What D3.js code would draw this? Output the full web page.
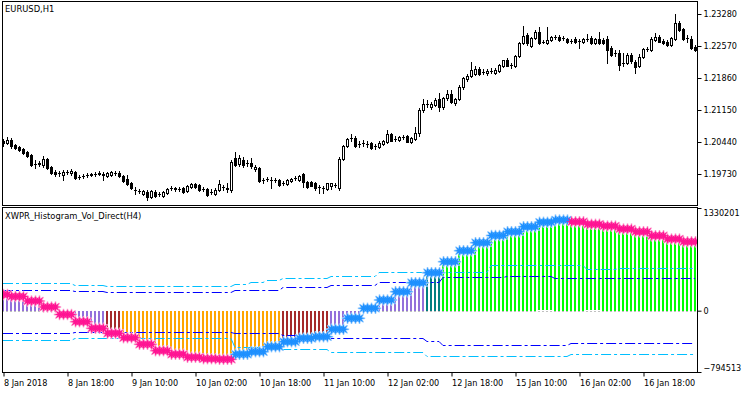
<!DOCTYPE html>
<html><head><meta charset="utf-8">
<script src="https://cdn.jsdelivr.net/npm/d3@7"></script>
<style>
html,body{margin:0;padding:0;background:#fff;}
svg{display:block;}
text{font-family:"DejaVu Sans Condensed","DejaVu Sans",sans-serif;font-stretch:condensed;font-size:9px;fill:#000;}
</style></head><body>
<svg id="c" width="750" height="394"></svg>
<script>
// ---------- DATA ----------
const symbolTitle = "EURUSD,H1";
const indicatorTitle = "XWPR_Histogram_Vol_Direct(H4)";
// H1 candles, first visible bar = 8 Jan 2018 02:00
const open = [1.2045,1.2040,1.2047,1.2036,1.2031,1.2027,1.2020,1.2014,1.1994,1.1994,1.1991,1.2005,1.1987,1.1976,1.1974,1.1969,1.1976,1.1974,1.1976,1.1965,
1.1967,1.1969,1.1969,1.1971,1.1971,1.1969,1.1967,1.1969,1.1974,1.1974,1.1967,1.1960,1.1951,1.1936,1.1934,1.1927,1.1931,1.1920,1.1931,1.1927,
1.1923,1.1929,1.1940,1.1940,1.1938,1.1940,1.1934,1.1942,1.1949,1.1947,1.1938,1.1938,1.1931,1.1927,1.1936,1.1942,1.1940,1.1936,1.2007,1.1994,
1.2002,1.1996,1.1996,1.1982,1.1985,1.1958,1.1960,1.1958,1.1958,1.1958,1.1951,1.1949,1.1956,1.1962,1.1958,1.1971,1.1954,1.1954,1.1951,1.1942,
1.1940,1.1938,1.1945,1.1947,1.1940,1.2005,1.2034,1.2051,1.2051,1.2038,1.2040,1.2038,1.2040,1.2034,1.2031,1.2038,1.2042,1.2060,1.2049,1.2047,
1.2054,1.2056,1.2042,1.2049,1.2062,1.2113,1.2127,1.2120,1.2125,1.2138,1.2120,1.2140,1.2149,1.2129,1.2138,1.2164,1.2182,1.2189,1.2193,1.2204,
1.2198,1.2196,1.2200,1.2196,1.2200,1.2211,1.2224,1.2213,1.2211,1.2233,1.2262,1.2280,1.2255,1.2273,1.2287,1.2264,1.2262,1.2269,1.2275,1.2275,
1.2273,1.2271,1.2267,1.2271,1.2267,1.2264,1.2271,1.2273,1.2262,1.2271,1.2269,1.2271,1.2251,1.2240,1.2240,1.2218,1.2218,1.2236,1.2220,1.2211,
1.2231,1.2249,1.2247,1.2269,1.2275,1.2267,1.2264,1.2258,1.2271,1.2306,1.2293,1.2273,1.2271,1.2253];
const high = [1.2049,1.2054,1.2051,1.2038,1.2034,1.2029,1.2022,1.2016,1.2002,1.2000,1.2011,1.2007,1.1989,1.1980,1.1978,1.1980,1.1980,1.1982,1.1978,1.1969,
1.1971,1.1974,1.1974,1.1976,1.1978,1.1976,1.1976,1.1978,1.1978,1.1978,1.1969,1.1969,1.1954,1.1942,1.1938,1.1936,1.1936,1.1936,1.1936,1.1931,
1.1934,1.1940,1.1945,1.1942,1.1942,1.1942,1.1947,1.1951,1.1951,1.1949,1.1942,1.1940,1.1938,1.1940,1.1958,1.1947,1.1951,1.2002,1.2020,1.2014,
1.2009,1.2002,1.2007,1.1991,1.1987,1.1962,1.1965,1.1965,1.1962,1.1960,1.1956,1.1960,1.1962,1.1967,1.1969,1.1974,1.1956,1.1956,1.1954,1.1947,
1.1945,1.1951,1.1951,1.1951,1.2009,1.2036,1.2051,1.2060,1.2056,1.2045,1.2047,1.2045,1.2042,1.2038,1.2045,1.2047,1.2069,1.2062,1.2056,1.2056,
1.2058,1.2058,1.2054,1.2076,1.2118,1.2138,1.2136,1.2131,1.2140,1.2151,1.2142,1.2158,1.2158,1.2140,1.2169,1.2187,1.2193,1.2220,1.2211,1.2209,
1.2204,1.2204,1.2207,1.2207,1.2216,1.2224,1.2229,1.2218,1.2236,1.2264,1.2300,1.2284,1.2275,1.2291,1.2298,1.2269,1.2298,1.2278,1.2280,1.2280,
1.2278,1.2273,1.2271,1.2275,1.2271,1.2273,1.2282,1.2278,1.2273,1.2287,1.2273,1.2278,1.2255,1.2247,1.2247,1.2240,1.2240,1.2240,1.2224,1.2238,
1.2251,1.2253,1.2275,1.2284,1.2280,1.2271,1.2269,1.2275,1.2326,1.2311,1.2295,1.2280,1.2278,1.2258];
const low = [1.2034,1.2038,1.2029,1.2027,1.2022,1.2016,1.2009,1.1989,1.1985,1.1989,1.1987,1.1982,1.1971,1.1967,1.1967,1.1958,1.1971,1.1969,1.1960,1.1960,
1.1962,1.1965,1.1967,1.1967,1.1969,1.1958,1.1965,1.1967,1.1969,1.1965,1.1954,1.1947,1.1938,1.1927,1.1929,1.1925,1.1914,1.1918,1.1920,1.1923,
1.1920,1.1927,1.1936,1.1934,1.1934,1.1929,1.1931,1.1940,1.1940,1.1934,1.1934,1.1923,1.1927,1.1925,1.1934,1.1936,1.1931,1.1931,1.1989,1.1989,
1.1987,1.1989,1.1985,1.1978,1.1954,1.1951,1.1956,1.1940,1.1954,1.1945,1.1947,1.1947,1.1954,1.1958,1.1956,1.1942,1.1940,1.1945,1.1936,1.1929,
1.1929,1.1936,1.1938,1.1942,1.1936,1.2002,1.2031,1.2045,1.2031,1.2031,1.2034,1.2031,1.2027,1.2027,1.2029,1.2036,1.2040,1.2045,1.2045,1.2045,
1.2049,1.2042,1.2040,1.2047,1.2056,1.2109,1.2120,1.2116,1.2122,1.2111,1.2116,1.2136,1.2129,1.2125,1.2136,1.2160,1.2178,1.2187,1.2191,1.2191,
1.2193,1.2191,1.2196,1.2193,1.2198,1.2209,1.2211,1.2207,1.2209,1.2231,1.2260,1.2258,1.2253,1.2271,1.2260,1.2262,1.2260,1.2267,1.2271,1.2267,
1.2269,1.2262,1.2262,1.2262,1.2251,1.2262,1.2267,1.2260,1.2260,1.2260,1.2260,1.2218,1.2233,1.2233,1.2202,1.2211,1.2216,1.2218,1.2196,1.2209,
1.2229,1.2244,1.2244,1.2267,1.2264,1.2260,1.2255,1.2255,1.2269,1.2289,1.2269,1.2264,1.2249,1.2244];
const close = [1.2040,1.2047,1.2034,1.2029,1.2025,1.2018,1.2011,1.1991,1.1994,1.1996,1.2005,1.1985,1.1974,1.1971,1.1974,1.1976,1.1976,1.1978,1.1962,1.1965,
1.1967,1.1969,1.1971,1.1971,1.1974,1.1971,1.1974,1.1976,1.1974,1.1967,1.1956,1.1949,1.1940,1.1936,1.1934,1.1934,1.1920,1.1934,1.1923,1.1927,
1.1931,1.1938,1.1940,1.1938,1.1938,1.1931,1.1945,1.1949,1.1942,1.1936,1.1938,1.1925,1.1931,1.1936,1.1949,1.1942,1.1938,1.1998,1.1991,1.2007,
1.1991,1.1996,1.1989,1.1987,1.1956,1.1958,1.1960,1.1958,1.1958,1.1947,1.1951,1.1958,1.1960,1.1962,1.1967,1.1954,1.1942,1.1945,1.1940,1.1942,
1.1940,1.1951,1.1951,1.1947,1.2005,1.2034,1.2049,1.2051,1.2034,1.2038,1.2040,1.2038,1.2029,1.2034,1.2040,1.2045,1.2060,1.2045,1.2049,1.2054,
1.2054,1.2042,1.2051,1.2062,1.2113,1.2127,1.2127,1.2127,1.2136,1.2120,1.2140,1.2149,1.2131,1.2138,1.2164,1.2184,1.2189,1.2202,1.2204,1.2193,
1.2198,1.2200,1.2200,1.2202,1.2213,1.2224,1.2211,1.2213,1.2233,1.2262,1.2278,1.2262,1.2273,1.2287,1.2262,1.2264,1.2269,1.2275,1.2275,1.2269,
1.2273,1.2264,1.2267,1.2264,1.2267,1.2271,1.2271,1.2262,1.2271,1.2262,1.2262,1.2247,1.2236,1.2240,1.2213,1.2218,1.2236,1.2222,1.2209,1.2231,
1.2249,1.2249,1.2271,1.2275,1.2264,1.2262,1.2258,1.2273,1.2306,1.2291,1.2271,1.2273,1.2251,1.2247];

const timeLabels = ["8 Jan 2018","8 Jan 18:00","9 Jan 10:00","10 Jan 02:00","10 Jan 18:00","11 Jan 10:00","12 Jan 02:00","12 Jan 18:00","15 Jan 10:00","16 Jan 02:00","16 Jan 18:00"];
const timeLabelBars = [0,16,32,48,64,80,96,112,128,144,160];
const priceTicks = [1.19730,1.20440,1.21150,1.21860,1.22570,1.23280];
const histTicks = [-794513,0,1330201];

// H4 indicator values (one per H4 bar, first H4 bar = 8 Jan 00:00)
const h4Value = [209500,183600,125300,47500,-49600,-142900,-228400,-293200,-350200,-435700,
-518600,-565300,-604100,-622300,-630000,-565300,-531600,-466800,-402000,-358000,
-337200,-241400,-98900,30700,138200,245800,362400,491900,634400,777000,
880600,973900,1023100,1087900,1144900,1174700,1152700,1119000,1097000,1058100,
1023100,971300,928500,893500];
// histogram colour state per H4 bar
const h4State = ["mid","mid","mid","mid","mid","mid","mid","dn1","dn2","dn2",
"dn2","dn2","dn2","dn2","dn2","dn2","dn2","dn2","dn1","dn1",
"dn1","mid","mid","mid","mid","mid","mid","up1","up2","up2",
"up2","up2","up2","up2","up2","up2","up2","up2","up2","up2",
"up2","up2","up2","up2"];
// direction of the signal (star colour)
const h4Dir = ["fall","fall","fall","fall","fall","fall","fall","fall","fall","fall",
"fall","fall","fall","fall","fall","rise","rise","rise","rise","rise",
"rise","rise","rise","rise","rise","rise","rise","rise","rise","rise",
"rise","rise","rise","rise","rise","rise","fall","fall","fall","fall",
"fall","fall","fall","fall"];
// volume-based levels
const levelUp2 = [358500,358500,358500,358500,358500,336500,336500,319600,319600,319600,
319600,319600,319600,319600,319600,345500,367600,397400,419400,419400,
419400,449200,449200,449200,504900,504900,504900,497100,497100,497100,
497100,591700,591700,591700,591700,591700,591700,536000,536000,556700,
556700,556700,556700,556700];
const levelUp1 = [267800,267800,267800,267800,267800,254800,254800,238000,238000,238000,
238000,238000,238000,238000,238000,274300,274300,274300,302800,302800,
302800,332600,332600,332600,375300,375300,375300,375300,432300,432300,
432300,432300,449200,449200,449200,427200,427200,427200,427200,427200,
427200,427200,427200,427200];
const levelDn1 = [-293200,-293200,-293200,-293200,-293200,-269900,-269900,-269900,-269900,-269900,
-269900,-269900,-269900,-269900,-269900,-293200,-293200,-293200,-315200,-315200,
-315200,-358000,-358000,-358000,-358000,-358000,-358000,-389100,-447400,-447400,
-447400,-447400,-447400,-447400,-447400,-447400,-422800,-422800,-422800,-422800,
-422800,-422800,-422800,-422800];
const levelDn2 = [-383900,-383900,-383900,-383900,-383900,-351500,-351500,-351500,-351500,-351500,
-351500,-351500,-351500,-351500,-351500,-466800,-466800,-466800,-500500,-500500,
-500500,-531600,-531600,-531600,-531600,-531600,-531600,-587300,-587300,-587300,
-587300,-587300,-587300,-587300,-587300,-587300,-561400,-561400,-561400,-561400,
-561400,-561400,-561400,-561400];

// ---------- STYLE ----------
const stateColor = {mid:"#9370DB", dn1:"#A52A2A", dn2:"#FFA500", up1:"#008080", up2:"#00FF00"};
const dirColor = {fall:"#FF1493", rise:"#1E90FF"};
const dirHalo = {fall:"#FFB0D8", rise:"#A8D4FF"};

// ---------- LAYOUT ----------
const L = 2, R = 697, T1 = 1, B1 = 205, T2 = 207, B2 = 372;
const nBars = close.length;
const h4Of = i => Math.floor((i + 2) / 4); // H1 bar -> H4 bar (first H1 bar is 02:00)

const svg = d3.select("#c");
const x = d3.scaleLinear().domain([0, nBars - 1]).range([3, 695]);
const yTop = d3.scaleLinear().domain([1.19730, 1.23280]).range([173.5, 13.5]);
const yH = d3.scaleLinear().domain([-794513, 1330201]).range([B2, T2 + 1]);

const defs = svg.append("defs");
defs.append("clipPath").attr("id","clip1").append("rect").attr("x",L+1).attr("y",T1+1).attr("width",R-L-1).attr("height",B1-T1-1);
defs.append("clipPath").attr("id","clip2").append("rect").attr("x",L+1).attr("y",T2+1).attr("width",R-L-1).attr("height",B2-T2-1);

// ---------- TOP PANEL: candles ----------
const gC = svg.append("g").attr("clip-path","url(#clip1)");
const idx = d3.range(nBars);
idx.forEach(i => {
  const cx = Math.round(x(i));
  const yo = Math.round(yTop(open[i])), yc = Math.round(yTop(close[i]));
  const yh = Math.round(yTop(high[i])), yl = Math.round(yTop(low[i]));
  gC.append("line").attr("x1",cx+0.5).attr("x2",cx+0.5).attr("y1",yh).attr("y2",yl+1)
    .attr("stroke","#000").attr("stroke-width",1);
  if (yo === yc) {
    gC.append("rect").attr("x",cx-1).attr("y",yo).attr("width",3).attr("height",1).attr("fill","#000");
  } else if (close[i] > open[i]) {
    gC.append("rect").attr("x",cx-0.5).attr("y",yc+0.5).attr("width",2).attr("height",yo-yc)
      .attr("fill","#fff").attr("stroke","#000").attr("stroke-width",1);
  } else {
    gC.append("rect").attr("x",cx-1).attr("y",yo).attr("width",3).attr("height",yc-yo+1).attr("fill","#000");
  }
});

// ---------- BOTTOM PANEL ----------
const g2 = svg.append("g").attr("clip-path","url(#clip2)");
// zero level
g2.append("line").attr("x1",L).attr("x2",R).attr("y1",Math.round(yH(0))+0.5).attr("y2",Math.round(yH(0))+0.5)
  .attr("stroke","#C0C0C0").attr("stroke-dasharray","2,2");
// histogram
g2.selectAll("rect.hist").data(idx).join("rect").attr("class","hist")
  .attr("x", i => Math.round(x(i)) - 1).attr("width", 2)
  .attr("y", i => Math.round(Math.min(yH(h4Value[h4Of(i)]), yH(0))))
  .attr("height", i => Math.max(1, Math.round(Math.abs(yH(h4Value[h4Of(i)]) - yH(0)))))
  .attr("fill", i => stateColor[h4State[h4Of(i)]]);
// levels
const levels = [[levelUp2,"#00BFFF"],[levelUp1,"#0000FF"],[levelDn1,"#0000FF"],[levelDn2,"#00BFFF"]];
levels.forEach(([arr,col]) => {
  const line = d3.line().x(i => x(i)).y(i => Math.round(yH(arr[h4Of(i)])) + 0.5);
  g2.append("path").attr("d", line(idx)).attr("fill","none").attr("stroke",col)
    .attr("stroke-width",1).attr("stroke-dasharray","10,3,3,3");
});
// stars
function starPath(Ro, Ri, n) {
  const pts = [];
  for (let k = 0; k < 2*n; k++) {
    const a = -Math.PI/2 + k*Math.PI/n;
    const r = k % 2 ? Ri : Ro;
    pts.push([r*Math.cos(a), r*Math.sin(a)]);
  }
  return "M" + pts.map(p => p[0].toFixed(2)+","+p[1].toFixed(2)).join("L") + "Z";
}
const sp = starPath(5.6, 2.1, 8);
const gs = g2.append("g");
idx.forEach(i => {
  const g = h4Of(i);
  gs.append("path").attr("d", sp)
    .attr("transform", `translate(${x(i)+0.5},${yH(h4Value[g])})`)
    .attr("fill", dirHalo[h4Dir[g]]).attr("stroke", dirHalo[h4Dir[g]]).attr("stroke-width",1.4);
});
idx.forEach(i => {
  const g = h4Of(i);
  gs.append("path").attr("d", sp)
    .attr("transform", `translate(${x(i)+0.5},${yH(h4Value[g])})`)
    .attr("fill", dirColor[h4Dir[g]]);
});

// ---------- FRAMES ----------
svg.append("rect").attr("x",L+0.5).attr("y",T1+0.5).attr("width",R-L).attr("height",B1-T1)
  .attr("fill","none").attr("stroke","#000");
svg.append("rect").attr("x",L+0.5).attr("y",T2+0.5).attr("width",R-L).attr("height",B2-T2)
  .attr("fill","none").attr("stroke","#000");

// ---------- AXES ----------
const axP = svg.append("g").attr("transform",`translate(${R+0.5},0)`)
  .call(d3.axisRight(yTop).tickValues(priceTicks).tickFormat(d3.format(".5f")).tickSize(4).tickPadding(2));
axP.select(".domain").remove();
axP.selectAll(".tick line").attr("transform","translate(0,0.5)");

const axH = svg.append("g").attr("transform",`translate(${R+0.5},0)`)
  .call(d3.axisRight(yH).tickValues(histTicks).tickFormat(d3.format("d")).tickSize(4).tickPadding(2));
axH.select(".domain").remove();
axH.selectAll(".tick text").attr("dy", d => d === histTicks[2] ? "0.85em" : (d === histTicks[0] ? "-0.15em" : "0.32em"));

const axT = svg.append("g").attr("transform",`translate(0.5,${B2+0.5})`)
  .call(d3.axisBottom(x).tickValues(timeLabelBars).tickFormat((d,k) => timeLabels[k]).tickSize(4).tickPadding(3));
axT.select(".domain").remove();
axT.selectAll(".tick text").attr("text-anchor","start").attr("dx", "0");
svg.selectAll(".tick text").attr("font-family",null).attr("font-size",null).attr("fill","#000");
svg.selectAll(".tick line").attr("stroke","#000");

// ---------- TITLES ----------
svg.append("text").attr("x",5).attr("y",12).style("font-size","9.3px").text(symbolTitle);
svg.append("text").attr("x",5).attr("y",219).style("font-size","9.3px").text(indicatorTitle);
</script>
</body></html>
